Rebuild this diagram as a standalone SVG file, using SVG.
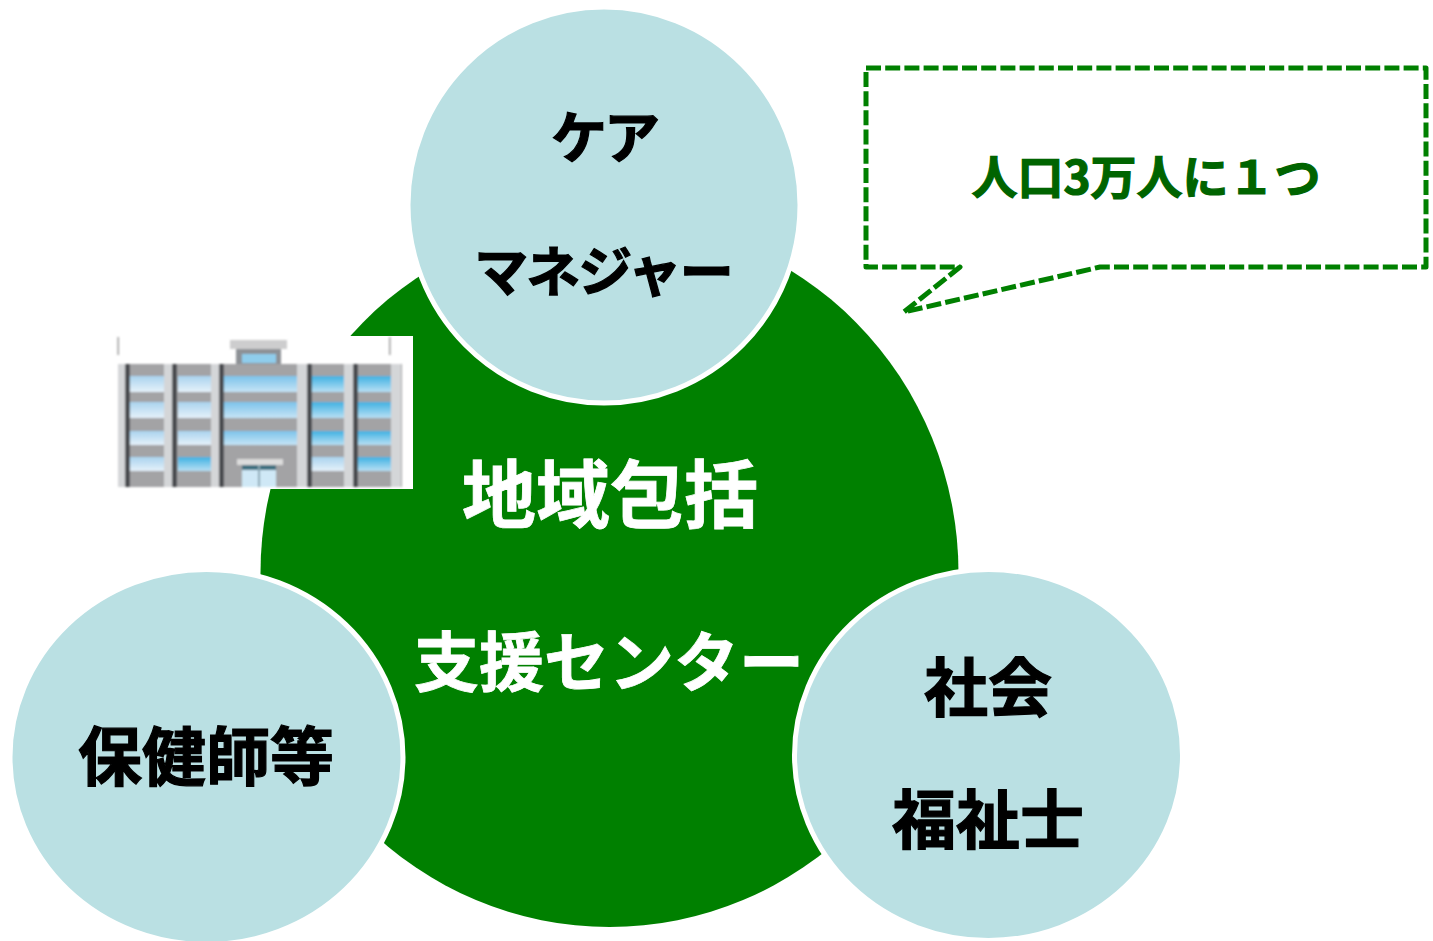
<svg xmlns="http://www.w3.org/2000/svg" width="1433" height="941" viewBox="0 0 1433 941">
<style>
text{font-family:"Noto Sans CJK JP","Noto Sans",sans-serif;font-weight:700;text-anchor:middle;stroke-width:1.200}
.c{fill:#bae0e3;stroke:#fff;stroke-width:5}
.k{fill:#000;stroke:#000}
.w{fill:#fff;stroke:#fff;stroke-width:.8}
.win{fill:url(#g)}
.win2{fill:url(#g2)}
.win3{fill:url(#g3)}
.grey{fill:#a3a3a5}
.post{fill:#4a4c50}
.pil{fill:#d4d6d8}
</style>
<defs>
<linearGradient id="g" x1="0" y1="0" x2="0" y2="1"><stop offset="0" stop-color="#a9d3ee"/><stop offset="1" stop-color="#e6f1fa"/></linearGradient>
<linearGradient id="g2" x1="0" y1="0" x2="0" y2="1"><stop offset="0" stop-color="#3fb1e2"/><stop offset="1" stop-color="#b9e0f4"/></linearGradient>
<linearGradient id="g3" x1="0" y1="0" x2="0" y2="1"><stop offset="0" stop-color="#7cc3ea"/><stop offset="1" stop-color="#c6e4f6"/></linearGradient>
<filter id="b" x="-5%" y="-5%" width="110%" height="110%"><feGaussianBlur stdDeviation="1.200"/></filter>
</defs>
<g id="center"><ellipse cx="609.500" cy="573" rx="349" ry="354" fill="#008000"/></g>
<g id="building">
<rect x="112" y="336" width="301" height="153" fill="#fff"/>
<g filter="url(#b)">
<rect x="117.500" y="337" width="1.500" height="18" fill="#9a9a9a"/><rect x="389" y="337" width="1.500" height="18" fill="#9a9a9a"/>
<rect x="230" y="340" width="57" height="9" fill="#cdcdce"/>
<rect x="236" y="349" width="45" height="15" fill="#8d9196"/>
<rect x="242" y="354" width="34" height="9" fill="#8fcdec"/>
<rect x="118" y="364" width="284" height="123" class="grey"/>
<rect x="118" y="364" width="7" height="123" class="pil"/>
<rect x="164" y="364" width="8" height="123" class="pil"/><rect x="211" y="364" width="10" height="123" class="pil"/><rect x="297" y="364" width="10" height="123" class="pil"/><rect x="344" y="364" width="9" height="123" class="pil"/><rect x="391" y="364" width="10" height="123" class="pil"/>
<g class="win"><rect x="130" y="376" width="34" height="16"/><rect x="178" y="376" width="33" height="16"/>
<rect x="130" y="402" width="34" height="16"/><rect x="178" y="402" width="33" height="16"/>
<rect x="130" y="431" width="34" height="14"/><rect x="178" y="431" width="33" height="14"/>
<rect x="130" y="457" width="34" height="14"/><rect x="312" y="457" width="32" height="14"/></g>
<g class="win3"><rect x="224" y="376" width="73" height="16"/><rect x="224" y="402" width="73" height="16"/><rect x="224" y="431" width="73" height="14"/></g>
<g class="win2"><rect x="178" y="457" width="33" height="14"/><rect x="312" y="376" width="32" height="16"/><rect x="358" y="376" width="33" height="16"/><rect x="312" y="402" width="32" height="16"/><rect x="358" y="402" width="33" height="16"/><rect x="312" y="431" width="32" height="14"/><rect x="358" y="431" width="33" height="14"/><rect x="358" y="457" width="33" height="14"/></g>
<rect x="125" y="364" width="5" height="123" class="post"/><rect x="172" y="364" width="5" height="123" class="post"/><rect x="219" y="364" width="5" height="123" class="post"/><rect x="307" y="364" width="5" height="123" class="post"/><rect x="353" y="364" width="5" height="123" class="post"/>
<rect x="237" y="459" width="46" height="6" fill="#dcdcdc"/>
<rect x="242" y="465" width="34" height="22" fill="#cfe8f6"/><rect x="242" y="465" width="34" height="5" fill="#3f6f80"/><rect x="258" y="465" width="2" height="22" fill="#8aa6b2"/>
</g>
</g>
<g id="care"><ellipse class="c" cx="604" cy="205" rx="196" ry="198"/>
<text class="k" x="604" y="158" font-size="56" letter-spacing="-3">ケア</text>
<text class="k" x="603" y="292" font-size="54" letter-spacing="-2">マネジャー</text></g>
<g id="nurse"><ellipse class="c" cx="206.500" cy="757" rx="196.500" ry="187.500"/>
<text class="k" x="206" y="780" font-size="64">保健師等</text></g>
<g id="social"><ellipse class="c" cx="988.500" cy="755" rx="194" ry="185.500"/>
<text class="k" x="988" y="711" font-size="64">社会</text>
<text class="k" x="988" y="843" font-size="64">福祉士</text></g>
<text class="w" x="610" y="522" font-size="74">地域包括</text>
<text class="w" x="609" y="686" font-size="65">支援センター</text>
<g id="connectors"><path d="M866 68H1426V267H1100L904 312L960 267H866Z" fill="none" stroke="#008000" stroke-width="5" stroke-linejoin="round" stroke-dasharray="15 4.200"/></g>
<g id="callout"><text x="1146" y="194" font-size="46" fill="#006400" stroke="#006400" stroke-width=".8">人口3万人に１つ</text></g>
</svg>
